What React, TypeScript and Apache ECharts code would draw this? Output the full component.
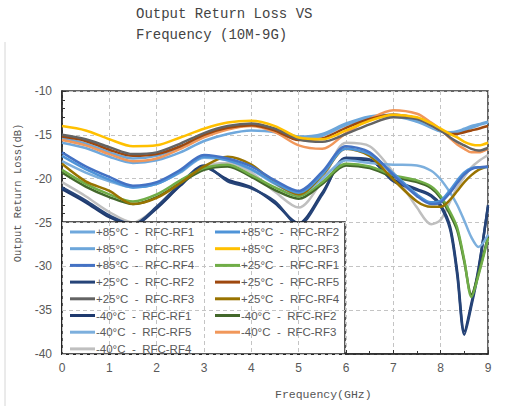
import React, { useEffect, useRef } from 'react';
import * as echarts from 'echarts';

// Frequency samples (GHz)
const freq = [0, 0.5, 1, 1.5, 2, 2.5, 3, 3.5, 4, 4.5, 5, 5.5, 6, 6.5, 7, 7.5, 7.8, 8, 8.2, 8.35, 8.5, 8.65, 8.8, 9];

// Output return loss (dB) per condition
const p85rf1 = [-15.9, -16.5, -17.5, -18.2, -17.9, -17.0, -15.7, -14.9, -14.5, -14.7, -15.5, -15.1, -13.9, -13.1, -12.9, -13.5, -14.2, -14.6, -14.7, -14.6, -14.3, -14.0, -13.8, -13.5];
const p85rf2 = [-17.4, -18.9, -20.1, -21.0, -20.6, -19.2, -17.5, -17.9, -18.9, -20.5, -21.6, -19.5, -16.6, -17.2, -19.4, -21.8, -22.7, -22.5, -21.3, -20.2, -19.3, -18.8, -18.7, -18.7];
const p85rf5 = [-15.4, -16.0, -17.0, -17.7, -17.4, -16.4, -15.1, -14.3, -13.9, -14.3, -15.2, -14.9, -13.7, -12.9, -12.7, -13.3, -14.0, -14.6, -14.8, -14.7, -14.5, -14.2, -13.9, -13.6];
const p85rf3 = [-14.0, -14.5, -15.5, -16.3, -16.2, -15.3, -14.3, -13.6, -13.4, -14.0, -15.3, -15.5, -14.5, -13.4, -12.7, -13.0, -13.7, -14.3, -14.9, -15.3, -15.8, -16.1, -16.2, -15.9];
const p85rf4 = [-17.0, -18.6, -19.8, -20.8, -20.4, -19.0, -17.3, -17.7, -18.6, -20.2, -21.4, -19.2, -16.3, -17.0, -19.6, -22.0, -22.9, -22.7, -21.6, -20.5, -19.5, -18.9, -18.7, -18.6];
const p25rf1 = [-19.0, -20.6, -21.8, -22.6, -21.8, -20.2, -18.8, -18.4, -19.6, -21.0, -22.0, -20.4, -18.3, -18.6, -19.6, -20.2, -20.9, -22.0, -23.8, -25.6, -29.3, -33.5, -31.0, -26.8];
const p25rf2 = [-21.0, -22.5, -24.2, -25.2, -23.2, -20.6, -18.5, -20.3, -21.1, -22.6, -25.3, -21.8, -17.6, -17.8, -20.3, -21.3, -22.0, -23.2, -25.8, -31.0, -37.8, -34.5, -30.5, -23.0];
const p25rf5 = [-15.2, -15.7, -16.7, -17.4, -17.2, -16.3, -15.0, -14.2, -13.9, -14.5, -15.6, -15.4, -14.2, -13.2, -12.7, -13.1, -13.9, -14.5, -14.9, -14.9, -14.7, -14.5, -14.3, -14.0];
const p25rf3 = [-15.0, -15.5, -16.4, -17.2, -17.0, -16.0, -14.8, -14.0, -13.7, -14.3, -15.5, -15.8, -14.9, -13.8, -13.0, -13.2, -13.9, -14.5, -15.3, -15.8, -16.2, -16.6, -16.8, -16.5];
const p25rf4 = [-18.3, -20.3, -21.4, -22.9, -22.2, -20.5, -18.6, -17.5, -18.4, -20.5, -21.8, -19.6, -16.6, -17.4, -20.1, -22.6, -23.2, -23.2, -22.4, -21.4, -20.4, -19.6, -19.0, -18.6];
const m40rf1 = [-21.2, -22.7, -24.4, -25.3, -23.4, -20.8, -18.7, -20.1, -21.0, -22.8, -25.1, -21.6, -17.8, -17.9, -20.1, -21.2, -21.9, -23.0, -25.5, -30.6, -37.4, -34.2, -30.2, -23.2];
const m40rf2 = [-19.3, -20.9, -22.1, -22.9, -22.1, -20.5, -19.0, -18.6, -19.8, -21.3, -22.3, -20.6, -18.5, -18.8, -19.8, -20.4, -21.1, -22.2, -24.1, -25.9, -29.5, -33.2, -30.8, -26.6];
const m40rf5 = [-18.0, -19.3, -20.3, -21.0, -20.6, -19.3, -17.6, -17.9, -19.0, -20.6, -21.8, -20.0, -17.9, -18.2, -18.4, -18.5, -19.1, -20.1, -21.6, -23.0, -24.8, -26.7, -27.8, -26.4];
const m40rf3 = [-15.6, -16.2, -17.2, -18.0, -17.7, -16.6, -15.3, -14.4, -14.0, -14.7, -16.2, -16.6, -14.8, -13.2, -12.2, -12.6, -13.6, -14.4, -15.4, -16.1, -16.6, -17.0, -17.0, -16.6];
const m40rf4 = [-20.4, -22.0, -23.8, -25.0, -23.3, -20.8, -18.6, -18.2, -19.3, -21.5, -23.3, -20.2, -15.9, -16.3, -19.3, -23.3, -25.2, -24.7, -22.6, -21.0, -19.8, -18.7, -18.0, -17.3];

const seriesNames = [
  '+85°C - RFC-RF1', '+85°C - RFC-RF2', '+85°C - RFC-RF5', '+85°C - RFC-RF3', '+85°C - RFC-RF4',
  '+25°C - RFC-RF1', '+25°C - RFC-RF2', '+25°C - RFC-RF5', '+25°C - RFC-RF3', '+25°C - RFC-RF4',
  '-40°C - RFC-RF1', '-40°C - RFC-RF2', '-40°C - RFC-RF5', '-40°C - RFC-RF3', '-40°C - RFC-RF4',
];
const seriesValues = [p85rf1, p85rf2, p85rf5, p85rf3, p85rf4, p25rf1, p25rf2, p25rf5, p25rf3, p25rf4, m40rf1, m40rf2, m40rf5, m40rf3, m40rf4];
const seriesColors = [
  '#6FA8DC', '#4F94D8', '#6CA6DA', '#FFC000', '#4472C4',
  '#70AD47', '#264478', '#9E480E', '#636363', '#997300',
  '#1F3A6E', '#43682B', '#7CAFDD', '#F1975A', '#BFBFBF',
];
// draw order (later on top)
const drawOrder = [14, 10, 6, 11, 5, 12, 9, 1, 4, 0, 2, 13, 7, 8, 3];

const leftLegend = [0, 2, 4, 6, 8, 10, 12, 14].map((i) => seriesNames[i]);
const rightLegend = [1, 3, 5, 7, 9, 11, 13].map((i) => seriesNames[i]);

export default function App() {
  const ref = useRef<HTMLDivElement>(null);
  useEffect(() => {
    const chart = echarts.init(ref.current as HTMLDivElement, null, { renderer: 'svg' });
    const series: any[] = drawOrder.map((i) => ({
      type: 'line',
      name: seriesNames[i],
      xAxisIndex: 0,
      yAxisIndex: 0,
      data: freq.map((f, k) => [f, seriesValues[i][k]]),
      smooth: 0.3,
      showSymbol: false,
      symbol: 'none',
      z: 2,
      lineStyle: { width: 2.5, color: seriesColors[i] },
      itemStyle: { color: seriesColors[i] },
    }));
    const legendCommon = {
      orient: 'vertical',
      icon: 'rect',
      itemWidth: 25,
      itemHeight: 3,
      itemGap: 2.7,
      padding: 0,
      z: 110,
      selectedMode: false,
      formatter: (name: string) => name.replace(' - ', '\u00a0\u00a0-\u00a0\u00a0'),
      textStyle: { fontSize: 11.5, color: '#595959', fontFamily: 'Liberation Sans, Arial, sans-serif', lineHeight: 14, padding: [0, 0, 0, -4] },
    };
    chart.setOption({
      animation: false,
      backgroundColor: '#ffffff',
      title: {
        text: 'Output Return Loss VS\nFrequency (10M-9G)',
        left: 136,
        top: 3,
        padding: 0,
        textStyle: { fontFamily: 'Liberation Mono, monospace', fontSize: 14, fontWeight: 'normal', lineHeight: 21, color: '#444444' },
      },
      legend: [
        { ...legendCommon, data: leftLegend, left: 70, top: 225 },
        { ...legendCommon, data: rightLegend, left: 215, top: 225 },
      ],
      grid: [
        { left: 62, top: 91, width: 426, height: 263, show: true, borderColor: '#333333', borderWidth: 1.5, backgroundColor: 'transparent', z: 0 },
        { left: 62, top: 222, width: 283, height: 132, show: false, z: 105 },
      ],
      xAxis: [
        {
          type: 'value', gridIndex: 0, min: 0, max: 9, interval: 1,
          axisLine: { show: true, lineStyle: { color: '#222', width: 1.5 } },
          axisTick: { show: true, inside: true, length: 4, lineStyle: { color: '#333' } },
          minorTick: { show: true, splitNumber: 2, length: 3, lineStyle: { color: '#333' } },
          axisLabel: { color: '#595959', fontSize: 12, margin: 8, fontFamily: 'Liberation Sans, Arial, sans-serif' },
          splitLine: { show: true, lineStyle: { color: '#c4c4c4', type: [4, 3], width: 1 } },
        },
        {
          type: 'value', gridIndex: 1, min: 0, max: 283 / (426 / 9), interval: 1, z: 106,
          axisLine: { show: false }, axisTick: { show: false }, axisLabel: { show: false },
          splitLine: { show: true, lineStyle: { color: '#c4c4c4', type: [4, 3], width: 1 } },
        },
      ],
      yAxis: [
        {
          type: 'value', gridIndex: 0, min: -40, max: -10, interval: 5,
          axisLine: { show: true, lineStyle: { color: '#222', width: 1.5 } },
          axisTick: { show: true, inside: true, length: 4, lineStyle: { color: '#333' } },
          minorTick: { show: true, splitNumber: 5, length: 3, lineStyle: { color: '#333' } },
          axisLabel: { color: '#595959', fontSize: 12, margin: 10, fontFamily: 'Liberation Sans, Arial, sans-serif' },
          splitLine: { show: true, lineStyle: { color: '#c4c4c4', type: [4, 3], width: 1 } },
        },
        {
          type: 'value', gridIndex: 1, min: -40, max: -40 + 132 / (263 / 30), interval: 5, z: 106,
          axisLine: { show: false }, axisTick: { show: false }, axisLabel: { show: false },
          splitLine: { show: true, lineStyle: { color: '#c4c4c4', type: [4, 3], width: 1 } },
        },
      ],
      graphic: [
        { type: 'line', z: 1, shape: { x1: 5, y1: 42, x2: 5, y2: 406 }, style: { stroke: '#d6d6d6', lineWidth: 1 } },
        { type: 'rect', z: 100, shape: { x: 62, y: 222, width: 283, height: 132 }, style: { fill: '#ffffff', stroke: '#222222', lineWidth: 1.5 } },
        {
          type: 'text', z: 10, x: 18, y: 193, rotation: Math.PI / 2,
          style: { text: 'Output Return Loss(dB)', fontFamily: 'Liberation Mono, monospace', fontSize: 10.5, fill: '#555555', textAlign: 'center', textVerticalAlign: 'middle' },
        },
        {
          type: 'text', z: 10, x: 275, y: 394,
          style: { text: 'Frequency(GHz)', fontFamily: 'Liberation Mono, monospace', fontSize: 11.5, fill: '#555555', textAlign: 'left', textVerticalAlign: 'middle' },
        },
      ],
      series,
    });
    return () => chart.dispose();
  }, []);
  return <div ref={ref} style={{ position: 'fixed', left: 0, top: 0, width: 506, height: 406 }} />;
}
